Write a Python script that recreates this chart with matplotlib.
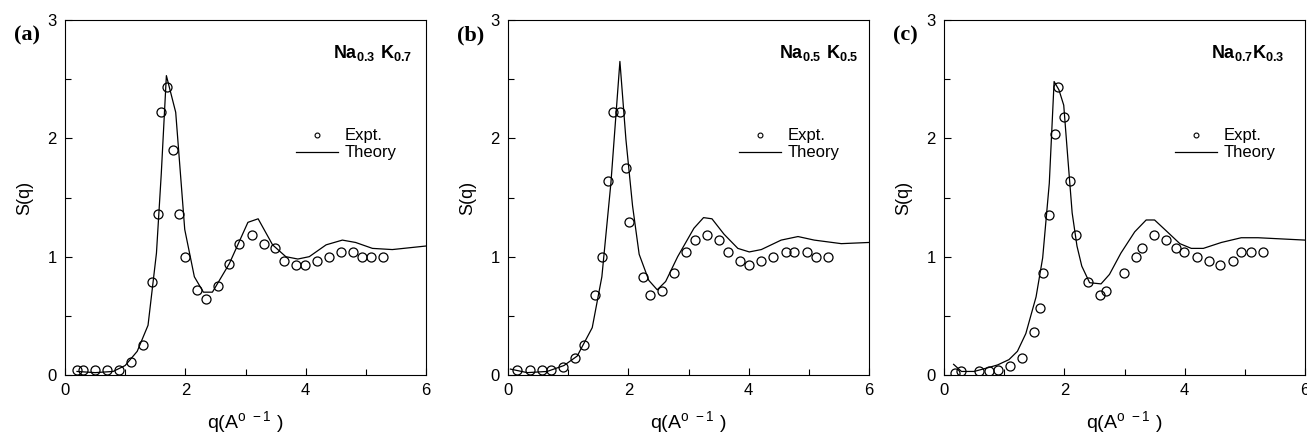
import matplotlib
matplotlib.use('Agg')
import matplotlib.pyplot as plt
from matplotlib.ticker import MultipleLocator

plt.rcParams['font.family'] = ['Liberation Sans', 'DejaVu Sans']
plt.rcParams['mathtext.fontset'] = 'custom'
plt.rcParams['mathtext.rm'] = 'Liberation Sans'
plt.rcParams['mathtext.bf'] = 'Liberation Sans:bold'
plt.rcParams['mathtext.default'] = 'regular'

# panel (a) Na0.3 K0.7
expt_q_a = [0.20, 0.30, 0.50, 0.70, 0.90, 1.10, 1.30, 1.44, 1.55, 1.60, 1.70, 1.80, 1.90, 1.99,
            2.19, 2.35, 2.55, 2.73, 2.89, 3.10, 3.30, 3.49, 3.64, 3.84, 3.99, 4.19, 4.39, 4.59,
            4.79, 4.94, 5.09, 5.29]
expt_s_a = [0.04, 0.04, 0.04, 0.04, 0.04, 0.11, 0.25, 0.79, 1.36, 2.22, 2.43, 1.90, 1.36, 1.00,
            0.72, 0.645, 0.75, 0.935, 1.11, 1.18, 1.11, 1.07, 0.966, 0.93, 0.93, 0.966, 1.00, 1.037,
            1.037, 1.00, 1.00, 1.00]
theo_q_a = [0.20, 0.50, 0.80, 1.00, 1.20, 1.38, 1.52, 1.60, 1.685, 1.84, 1.99, 2.15, 2.30, 2.45,
            2.73, 3.04, 3.21, 3.45, 3.67, 3.87, 4.06, 4.34, 4.61, 4.83, 5.11, 5.44, 6.00]
theo_s_a = [0.03, 0.02, 0.03, 0.08, 0.20, 0.42, 1.03, 1.70, 2.53, 2.22, 1.23, 0.83, 0.70, 0.70,
            0.94, 1.29, 1.32, 1.10, 1.00, 0.98, 1.00, 1.10, 1.14, 1.12, 1.07, 1.06, 1.09]

# panel (b) Na0.5 K0.5
expt_q_b = [0.15, 0.36, 0.56, 0.71, 0.91, 1.11, 1.26, 1.45, 1.56, 1.66, 1.75, 1.86, 1.96, 2.01,
            2.25, 2.36, 2.56, 2.76, 2.96, 3.11, 3.31, 3.51, 3.66, 3.86, 4.01, 4.21, 4.41, 4.62,
            4.76, 4.97, 5.12, 5.32]
expt_s_b = [0.04, 0.04, 0.04, 0.04, 0.07, 0.14, 0.25, 0.68, 1.00, 1.64, 2.22, 2.22, 1.75, 1.29,
            0.83, 0.68, 0.71, 0.86, 1.04, 1.14, 1.18, 1.14, 1.04, 0.965, 0.93, 0.965, 1.00, 1.04,
            1.04, 1.04, 1.00, 1.00]
theo_q_b = [0.04, 0.32, 0.65, 0.93, 1.15, 1.40, 1.56, 1.71, 1.86, 1.96, 2.07, 2.18, 2.34, 2.48,
            2.62, 2.82, 3.09, 3.25, 3.39, 3.59, 3.82, 4.01, 4.21, 4.54, 4.82, 5.09, 5.54, 6.00]
theo_s_b = [0.05, 0.02, 0.03, 0.08, 0.16, 0.40, 0.83, 1.62, 2.65, 1.99, 1.43, 1.02, 0.80, 0.72,
            0.79, 1.00, 1.24, 1.33, 1.32, 1.19, 1.07, 1.04, 1.06, 1.14, 1.17, 1.14, 1.11, 1.12]

# panel (c) Na0.7 K0.3
expt_q_c = [0.18, 0.29, 0.59, 0.74, 0.89, 1.09, 1.29, 1.49, 1.59, 1.64, 1.74, 1.84, 1.90, 2.00,
            2.09, 2.19, 2.39, 2.59, 2.69, 2.99, 3.19, 3.29, 3.49, 3.69, 3.85, 3.99, 4.20, 4.40,
            4.59, 4.80, 4.94, 5.10, 5.30]
expt_s_c = [0.02, 0.03, 0.03, 0.03, 0.04, 0.08, 0.14, 0.36, 0.57, 0.86, 1.35, 2.04, 2.43, 2.18,
            1.64, 1.18, 0.79, 0.68, 0.71, 0.86, 1.00, 1.07, 1.18, 1.14, 1.07, 1.04, 1.00, 0.965,
            0.93, 0.965, 1.04, 1.04, 1.04]
theo_q_c = [0.16, 0.29, 0.50, 0.72, 0.89, 1.08, 1.22, 1.36, 1.53, 1.64, 1.75, 1.83, 1.91, 1.99,
            2.06, 2.13, 2.21, 2.29, 2.42, 2.61, 2.75, 2.94, 3.17, 3.36, 3.50, 3.69, 3.92, 4.11,
            4.31, 4.61, 4.94, 5.22, 5.61, 6.00]
theo_s_c = [0.09, 0.03, 0.03, 0.06, 0.085, 0.13, 0.20, 0.35, 0.66, 0.99, 1.62, 2.48, 2.41, 2.28,
            1.82, 1.37, 1.09, 0.92, 0.78, 0.77, 0.85, 1.03, 1.21, 1.31, 1.31, 1.22, 1.11, 1.07,
            1.07, 1.12, 1.16, 1.16, 1.15, 1.14]

panels = [
    ('(a)', r'$\mathbf{Na_{0.3}\ K_{0.7}}$', 0.961, expt_q_a, expt_s_a, theo_q_a, theo_s_a),
    ('(b)', r'$\mathbf{Na_{0.5}\ K_{0.5}}$', 0.971, expt_q_b, expt_s_b, theo_q_b, theo_s_b),
    ('(c)', r'$\mathbf{Na_{0.7}K_{0.3}}$', 0.944, expt_q_c, expt_s_c, theo_q_c, theo_s_c),
]
lefts = [65, 508, 944]

fig = plt.figure(figsize=(13.07, 4.43), dpi=100)
W, H = 1307, 443

for left, (tag, title, tx, eq, es, tq, ts) in zip(lefts, panels):
    ax = fig.add_axes([left / W, (H - 375) / H, 361 / W, 355 / H])
    ax.plot(tq, ts, color='black', lw=0.9, label='Theory')
    ax.plot(eq, es, 'o', mfc='none', mec='black', ms=6.5, mew=0.9, label='_nolegend_')
    # small marker just for the legend
    ax.plot([], [], 'o', mfc='none', mec='black', ms=3.5, mew=0.8, label='Expt.')
    ax.set_xlim(0, 6)
    ax.set_ylim(0, 3)
    ax.xaxis.set_major_locator(MultipleLocator(2))
    ax.xaxis.set_minor_locator(MultipleLocator(1))
    ax.yaxis.set_major_locator(MultipleLocator(1))
    ax.yaxis.set_minor_locator(MultipleLocator(0.5))
    ax.tick_params(which='both', direction='in', top=False, right=False, labelsize=12, pad=6)
    ax.tick_params(which='major', length=5, width=0.8)
    ax.tick_params(which='minor', length=4, width=0.8)
    for sp in ax.spines.values():
        sp.set_linewidth(0.8)
    ax.set_xlabel(r'q(A$^{o\ -1}$ )', fontsize=14, labelpad=8)
    ax.set_ylabel('S(q)', fontsize=13, labelpad=10)
    ax.text(tx, 0.935, title, transform=ax.transAxes, ha='right', va='top', fontsize=13)
    ax.text(-0.14, 0.985, tag, transform=ax.transAxes, ha='left', va='top', fontsize=16,
            fontweight='bold', family='Liberation Serif')
    h, l = ax.get_legend_handles_labels()
    ax.legend(h[::-1], l[::-1], loc='upper left', bbox_to_anchor=(0.598, 0.737), frameon=False,
              fontsize=12, handlelength=2.5, handletextpad=0.45, labelspacing=0.12)

fig.savefig('out.png', dpi=100)
